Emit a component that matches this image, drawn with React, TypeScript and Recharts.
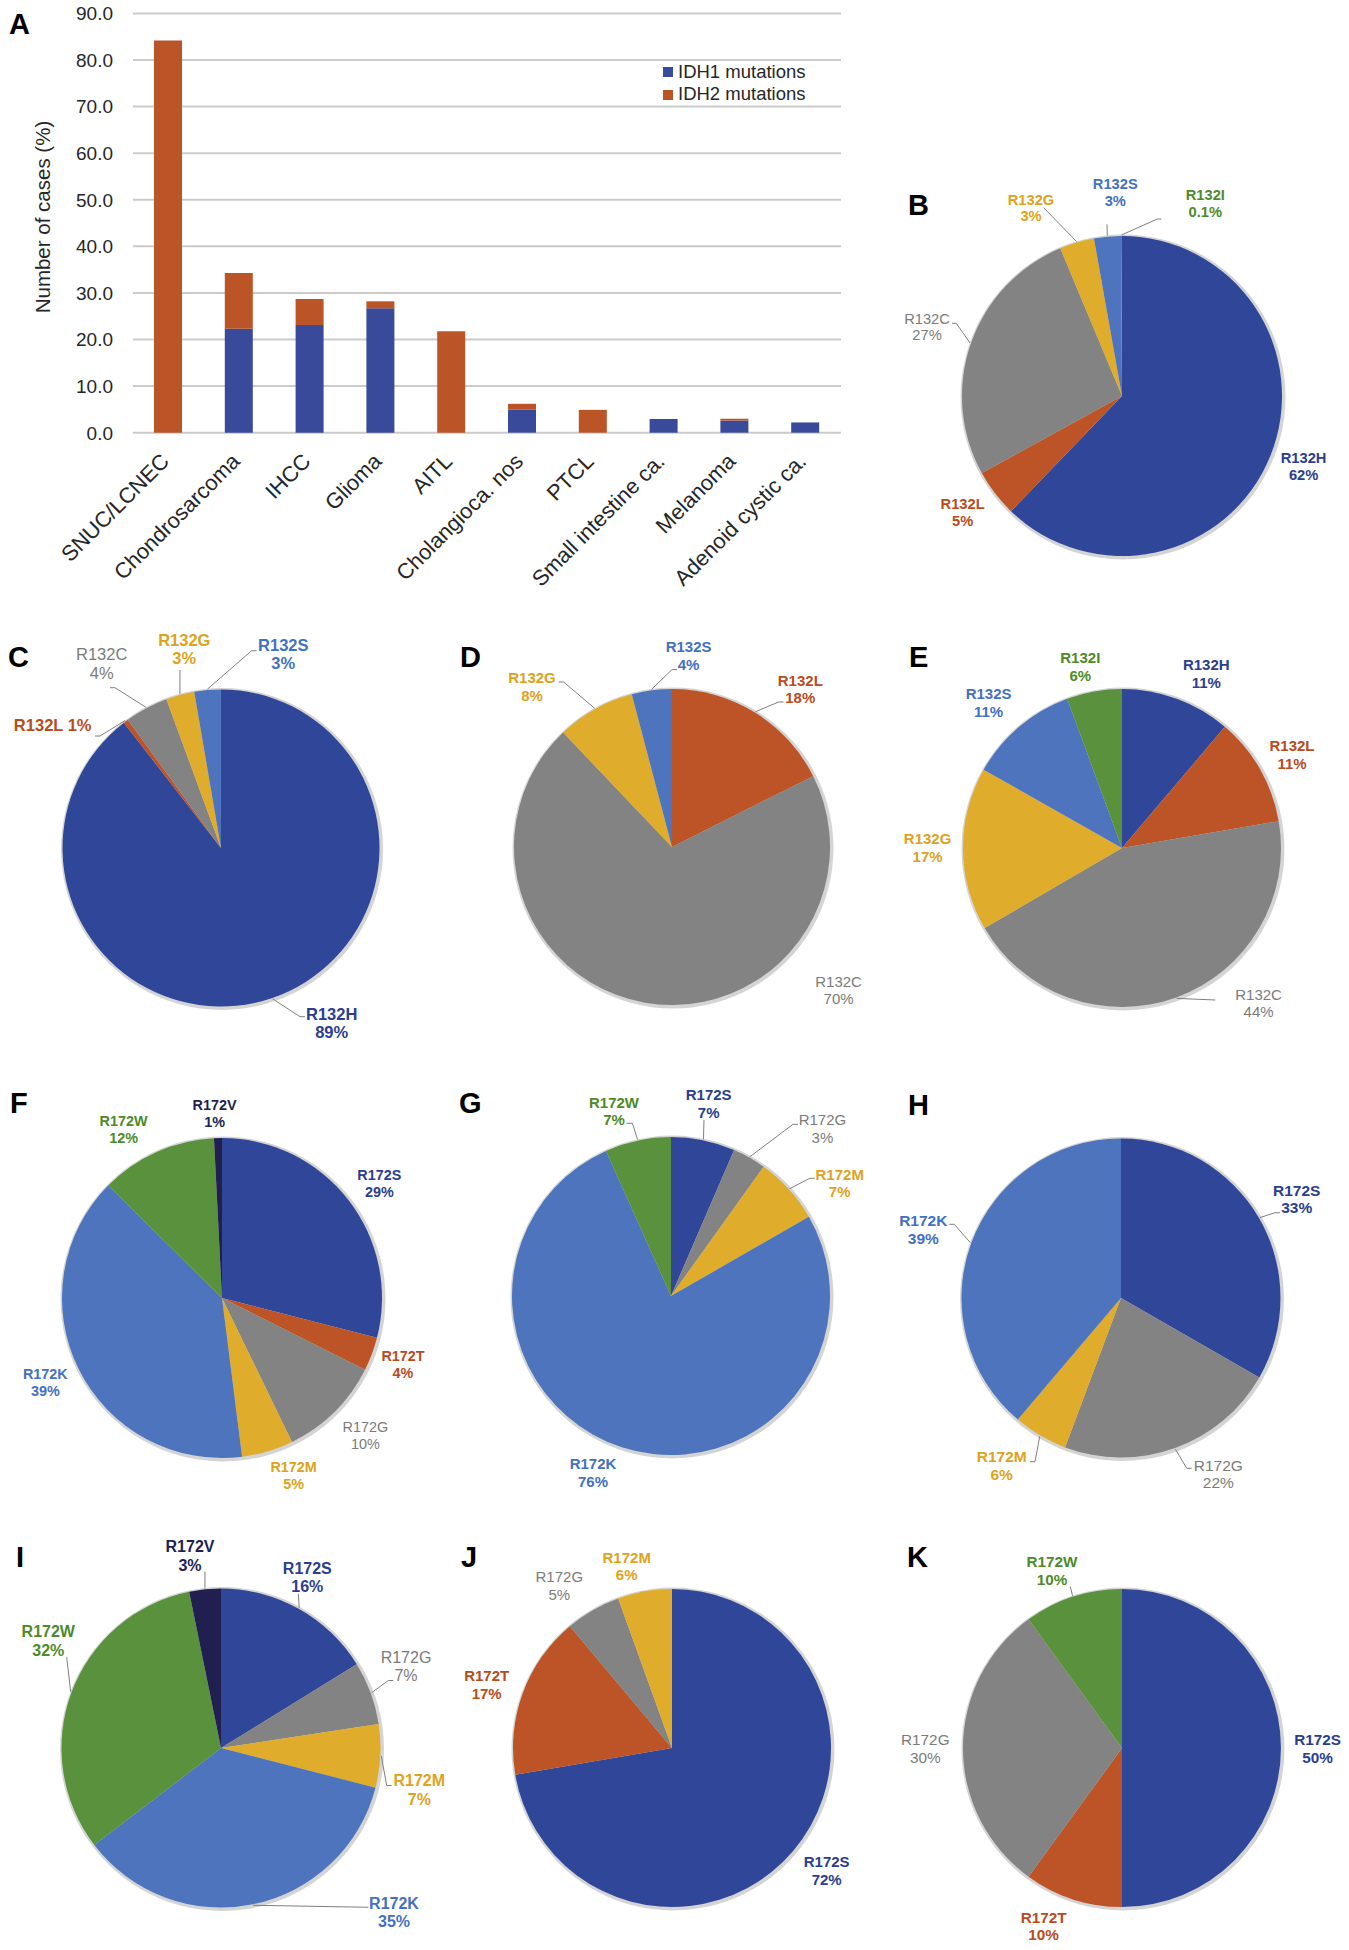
import React from 'react';
import { BarChart, Bar, XAxis, YAxis, CartesianGrid, Legend, PieChart, Pie, Cell, Label } from 'recharts';

const FONT = '"Liberation Sans", Arial, Helvetica, sans-serif';
const RAD = Math.PI / 180;

// ---------- Panel A data ----------
const categories = ['SNUC/LCNEC', 'Chondrosarcoma', 'IHCC', 'Glioma', 'AITL', 'Cholangioca. nos', 'PTCL', 'Small intestine ca.', 'Melanoma', 'Adenoid cystic ca.'];
const idh1Values = [0, 22.3, 23.1, 26.7, 0, 5.0, 0, 2.95, 2.6, 2.2];
const idh2Values = [84.2, 12.0, 5.6, 1.5, 21.8, 1.2, 4.9, 0, 0.4, 0];
const yTicks = [0, 10, 20, 30, 40, 50, 60, 70, 80, 90];
const seriesNames = ['IDH1 mutations', 'IDH2 mutations'];
const seriesColors = ['#394A9A', '#BB5527'];

// ---------- Pie data ----------
const bNames = ['R132H', 'R132L', 'R132C', 'R132G', 'R132S', 'R132I'];
const bValues = [62.2, 4.8, 26.7, 3.5, 2.7, 0.1];
const bPct = ['62%', '5%', '27%', '3%', '3%', '0.1%'];

const cNames = ['R132H', 'R132L', 'R132C', 'R132G', 'R132S'];
const cValues = [89.5, 0.5, 4.4, 2.9, 2.7];
const cPct = ['89%', '1%', '4%', '3%', '3%'];

const dNames = ['R132L', 'R132C', 'R132G', 'R132S'];
const dValues = [17.6, 70.3, 8.0, 4.1];
const dPct = ['18%', '70%', '8%', '4%'];

const eNames = ['R132H', 'R132L', 'R132C', 'R132G', 'R132S', 'R132I'];
const eValues = [11.2, 11.1, 44.3, 16.6, 11.2, 5.6];
const ePct = ['11%', '11%', '44%', '17%', '11%', '6%'];

const fNames = ['R172S', 'R172T', 'R172G', 'R172M', 'R172K', 'R172W', 'R172V'];
const fValues = [29.0, 3.4, 10.4, 5.2, 39.4, 11.8, 0.8];
const fPct = ['29%', '4%', '10%', '5%', '39%', '12%', '1%'];

const gNames = ['R172S', 'R172G', 'R172M', 'R172K', 'R172W'];
const gValues = [6.5, 3.4, 6.8, 76.6, 6.7];
const gPct = ['7%', '3%', '7%', '76%', '7%'];

const hNames = ['R172S', 'R172G', 'R172M', 'R172K'];
const hValues = [33.3, 22.4, 5.5, 38.8];
const hPct = ['33%', '22%', '6%', '39%'];

const iNames = ['R172S', 'R172G', 'R172M', 'R172K', 'R172W', 'R172V'];
const iValues = [16.2, 6.4, 6.4, 35.6, 32.2, 3.2];
const iPct = ['16%', '7%', '7%', '35%', '32%', '3%'];

const jNames = ['R172S', 'R172T', 'R172G', 'R172M'];
const jValues = [72.3, 16.6, 5.6, 5.5];
const jPct = ['72%', '17%', '5%', '6%'];

const kNames = ['R172S', 'R172T', 'R172G', 'R172W'];
const kValues = [50, 10, 30, 10];
const kPct = ['50%', '10%', '30%', '10%'];

// ---------- colours ----------
const KEY: Record<string, string> = {
  R132H: 'H', R132L: 'L', R132C: 'C', R132G: 'G', R132S: 'S', R132I: 'I',
  R172S: 'H', R172T: 'L', R172G: 'C', R172M: 'G', R172K: 'S', R172W: 'I', R172V: 'V',
};
const FILL: Record<string, string> = { H: '#304799', L: '#BC5427', C: '#838383', G: '#E0AC2C', S: '#4D74BD', I: '#5A913C', V: '#211F4F' };
const TEXT: Record<string, string> = { H: '#2B3D90', L: '#B94B1C', C: '#7B7B7B', G: '#DEA21C', S: '#4470C2', I: '#4D8B2A', V: '#1E1F52' };

// ---------- layout (page coordinates) ----------
type Panel = {
  letter: string; names: string[]; values: number[]; pct: string[];
  cx: number; cy: number; r: number; fs: number; lh: number;
  labels: number[][]; leaders: (number[] | null)[]; oneLine?: number[];
};

const panels: Panel[] = [
  { letter: 'B', names: bNames, values: bValues, pct: bPct, cx: 1121.7, cy: 396, r: 160, fs: 14.7, lh: 16.7,
    labels: [[1303.3, 457.7], [962.3, 504], [926.7, 318.3], [1030.7, 199.3], [1115, 184], [1205, 195]],
    leaders: [null, null, [951.7, 323.3, 956, 323.3], [1043.3, 207.7, 1043.3, 207.7], [1106.7, 224.3, 1106.7, 224.3], [1161, 219, 1157, 219]] },
  { letter: 'C', names: cNames, values: cValues, pct: cPct, cx: 221, cy: 848, r: 158.5, fs: 16.5, lh: 18.5,
    labels: [[331.7, 1014], [52.7, 725], [101.7, 654.3], [184.3, 640], [283.3, 645]],
    leaders: [[305, 1016.7, 300, 1016.7], [95, 736, 100, 736], [110, 687.7, 115, 687.7], [180, 670, 180, 670], [256.7, 650.7, 251.7, 650.7]],
    oneLine: [1] },
  { letter: 'D', names: dNames, values: dValues, pct: dPct, cx: 671.7, cy: 846.7, r: 158, fs: 15, lh: 17.5,
    labels: [[800, 680], [838.3, 981], [531.7, 677.3], [688.3, 646.7]],
    leaders: [[783.3, 701.7, 778.3, 701.7], null, [558.3, 681.7, 563.3, 681.7], [676.7, 669.3, 671.7, 669.3]] },
  { letter: 'E', names: eNames, values: eValues, pct: ePct, cx: 1121.7, cy: 848, r: 159, fs: 15, lh: 17.5,
    labels: [[1206, 665], [1291.7, 746], [1258.3, 994.3], [927.3, 839], [988.3, 694], [1080, 657.7]],
    leaders: [null, null, [1215, 1000, 1215, 1000], null, null, null] },
  { letter: 'F', names: fNames, values: fValues, pct: fPct, cx: 221.7, cy: 1298, r: 160, fs: 14.4, lh: 16.7,
    labels: [[379, 1175], [402.7, 1355.7], [365, 1426.7], [293.3, 1466.7], [45, 1374], [123.3, 1121], [214.3, 1105]],
    leaders: [null, null, null, null, null, null, null] },
  { letter: 'G', names: gNames, values: gValues, pct: gPct, cx: 671.3, cy: 1296, r: 159, fs: 15, lh: 17.5,
    labels: [[709, 1095], [822.7, 1120], [840, 1174.3], [593.3, 1464], [614.3, 1102.3]],
    leaders: [[704.3, 1120, 704.3, 1120], [798.3, 1124.3, 793.3, 1124.3], [815, 1178.3, 810, 1178.3], null, [626.7, 1123.3, 632.7, 1123.3]] },
  { letter: 'H', names: hNames, values: hValues, pct: hPct, cx: 1121, cy: 1298, r: 159.5, fs: 15.5, lh: 17.7,
    labels: [[1296.7, 1190], [1218.3, 1465], [1001.7, 1456.7], [923.3, 1220.7]],
    leaders: [[1280, 1212.7, 1275, 1212.7], [1191.7, 1468.3, 1186.7, 1468.3], [1030, 1461.7, 1035, 1461.7], [949.3, 1224.3, 954.3, 1224.3]] },
  { letter: 'I', names: iNames, values: iValues, pct: iPct, cx: 221, cy: 1747.5, r: 159.5, fs: 16, lh: 18.3,
    labels: [[307.3, 1567.3], [406, 1656.7], [419.3, 1780], [394, 1902.3], [48.3, 1631], [190, 1546]],
    leaders: [[298.3, 1593.3, 298.3, 1593.3], [393.3, 1680, 388.3, 1680], [391.7, 1785, 386.7, 1785], [368.3, 1906.7, 363.3, 1906.7], [66.7, 1656.7, 66.7, 1656.7], [205, 1571, 205, 1571]] },
  { letter: 'J', names: jNames, values: jValues, pct: jPct, cx: 672, cy: 1748, r: 159, fs: 15, lh: 17.7,
    labels: [[826.7, 1861.7], [486.7, 1675.7], [559.3, 1576.7], [626.7, 1557.3]],
    leaders: [null, null, null, null] },
  { letter: 'K', names: kNames, values: kValues, pct: kPct, cx: 1121.7, cy: 1747.5, r: 159, fs: 15.3, lh: 17.7,
    labels: [[1317.3, 1739], [1043.3, 1916.7], [925, 1739], [1051.7, 1561]],
    leaders: [null, null, null, [1070, 1586, 1070, 1586]] },
];

const letterPos: Record<string, number[]> = {
  A: [9, 34], B: [908, 215], C: [8, 667], D: [460, 667], E: [909, 667], F: [10, 1113],
  G: [459, 1113], H: [908, 1115], I: [16, 1567], J: [461, 1567], K: [907, 1567],
};

const BOX_W = 460;
const BOX_H = 464;
const LOCAL_CX = 230;
const LOCAL_CY = 232;

function makeLabel(p: Panel) {
  return (props: any) => {
    const { cx, cy, midAngle, outerRadius, index } = props;
    const ox = cx - p.cx;
    const oy = cy - p.cy;
    const name = p.names[index];
    const k = KEY[name];
    const [lx0, ly0] = p.labels[index];
    const lx = lx0 + ox;
    const ly = ly0 + oy;
    const base = 0.36 * p.fs;
    const weight = k === 'C' ? 400 : 700;
    const one = p.oneLine && p.oneLine.includes(index);
    const ld = p.leaders[index];
    let line = null;
    if (ld) {
      const ax = cx + (outerRadius + 1) * Math.cos(-midAngle * RAD);
      const ay = cy + (outerRadius + 1) * Math.sin(-midAngle * RAD);
      const pts = `${ld[0] + ox},${ld[1] + oy} ${ld[2] + ox},${ld[3] + oy} ${ax},${ay}`;
      line = <polyline points={pts} fill="none" stroke="#7F7F7F" strokeWidth={1} />;
    }
    return (
      <g key={`lbl-${index}`}>
        {line}
        <text textAnchor="middle" fontFamily={FONT} fontSize={p.fs} fontWeight={weight} fill={TEXT[k]}>
          {one ? (
            <tspan x={lx} y={ly + base}>{`${name} ${p.pct[index]}`}</tspan>
          ) : (
            <>
              <tspan x={lx} y={ly + base}>{name}</tspan>
              <tspan x={lx} y={ly + p.lh + base}>{p.pct[index]}</tspan>
            </>
          )}
        </text>
      </g>
    );
  };
}

function PiePanel({ p }: { p: Panel }) {
  const data = p.names.map((n, i) => ({ name: n, value: p.values[i] }));
  return (
    <div style={{ position: 'absolute', left: p.cx - LOCAL_CX, top: p.cy - LOCAL_CY, width: BOX_W, height: BOX_H }}>
      <PieChart width={BOX_W} height={BOX_H} margin={{ top: 0, right: 0, bottom: 0, left: 0 }}>
        <Pie data={[{ name: 'ring', value: 1 }]} dataKey="value" cx={LOCAL_CX + 1} cy={LOCAL_CY + 1} outerRadius={p.r + 2.5}
          startAngle={90} endAngle={-270} fill="#D4D4D4" stroke="none" isAnimationActive={false} />
        <Pie data={data} dataKey="value" cx={LOCAL_CX} cy={LOCAL_CY} outerRadius={p.r} startAngle={90} endAngle={-270}
          stroke="none" isAnimationActive={false} labelLine={false} label={makeLabel(p)}>
          {data.map((d, i) => (
            <Cell key={i} fill={FILL[KEY[d.name]]} />
          ))}
        </Pie>
      </PieChart>
    </div>
  );
}

const barData = categories.map((c, i) => ({ name: c, idh1: idh1Values[i], idh2: idh2Values[i] }));

const XTick = (props: any) => {
  const { x, y, payload } = props;
  const ax = x + 2;
  const ay = y + 30;
  return (
    <text x={ax} y={ay} transform={`rotate(-45, ${ax}, ${ay})`} textAnchor="end" fontFamily={FONT} fontSize={21.8} fill="#262626">
      {payload.value}
    </text>
  );
};

const YTick = (props: any) => {
  const { x, y, payload } = props;
  return (
    <text x={x - 20} y={y} dy={6.8} textAnchor="end" fontFamily={FONT} fontSize={19} fill="#262626">
      {Number(payload.value).toFixed(1)}
    </text>
  );
};

const YLabel = (props: any) => {
  const vb = props.viewBox || { x: 0, y: 13.4, width: 133, height: 419.3 };
  const x = vb.x + 43;
  const y = vb.y + vb.height / 2 - 6;
  return (
    <text x={x} y={y} transform={`rotate(-90, ${x}, ${y})`} textAnchor="middle" dominantBaseline="central"
      fontFamily={FONT} fontSize={20.5} fill="#262626">
      Number of cases (%)
    </text>
  );
};

const LegendContent = () => (
  <div style={{ fontFamily: FONT, fontSize: 18.5, color: '#262626', lineHeight: '22.5px' }}>
    {seriesNames.map((n, i) => (
      <div key={n} style={{ display: 'flex', alignItems: 'center', whiteSpace: 'nowrap' }}>
        <span style={{ display: 'inline-block', width: 10, height: 10, background: seriesColors[i], marginRight: 5 }} />
        {n}
      </div>
    ))}
  </div>
);

export default function App() {
  return (
    <div style={{ position: 'absolute', left: 0, top: 0, width: 1349, height: 1950, background: '#ffffff', overflow: 'hidden' }}>
      <div style={{ position: 'absolute', left: 0, top: 0, width: 860, height: 600 }}>
        <BarChart width={860} height={600} data={barData} margin={{ top: 13.4, right: 19, bottom: 0, left: 0 }} barSize={28}>
          <CartesianGrid vertical={false} stroke="#CBCBCB" strokeWidth={2} />
          <XAxis dataKey="name" interval={0} height={167.3} tickLine={false} axisLine={false} tickSize={0} tickMargin={0} tick={<XTick />} />
          <YAxis width={133} domain={[0, 90]} ticks={yTicks} tickLine={false} axisLine={false} tickSize={0} tickMargin={0} tick={<YTick />}>
            <Label content={YLabel} />
          </YAxis>
          <Legend layout="vertical" align="center" verticalAlign="middle" content={LegendContent}
            wrapperStyle={{ position: 'absolute', left: 663, top: 60.75, width: 200, height: 45 }} />
          <Bar dataKey="idh1" name={seriesNames[0]} stackId="a" fill={seriesColors[0]} isAnimationActive={false} />
          <Bar dataKey="idh2" name={seriesNames[1]} stackId="a" fill={seriesColors[1]} isAnimationActive={false} />
        </BarChart>
      </div>
      {panels.map((p) => (
        <PiePanel key={p.letter} p={p} />
      ))}
      <svg width={1349} height={1950} style={{ position: 'absolute', left: 0, top: 0, pointerEvents: 'none' }}>
        {Object.keys(letterPos).map((l) => (
          <text key={l} x={letterPos[l][0]} y={letterPos[l][1]} fontFamily={FONT} fontSize={29} fontWeight={700} fill="#000">
            {l}
          </text>
        ))}
      </svg>
    </div>
  );
}
